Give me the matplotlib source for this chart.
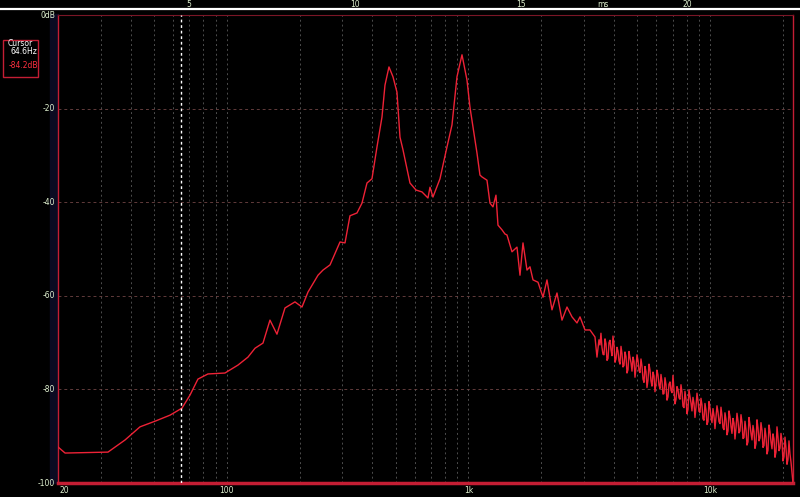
import matplotlib.pyplot as plt
from matplotlib.lines import Line2D
from matplotlib.patches import Rectangle
from matplotlib.ticker import LogLocator, NullFormatter

# spectrum: frequency (Hz) / level (dB)
freq = [20.0, 21.4, 32.2, 37.9, 43.7, 50.4, 58.2, 65.2, 70.4, 75.9, 83.5, 98.2,
        111.2, 122.3, 130.8, 141.1, 150.8, 161.2, 174.0, 191.4, 204.6, 216.7,
        238.4, 250.0, 267.3, 294.0, 308.3, 323.3, 345.6, 362.5, 380.2, 398.7,
        418.2, 438.6, 451.3, 468.8, 487.1, 506.0, 520.7, 535.8, 572.8, 606.5,
        642.1, 679.9, 693.0, 713.0, 762.3, 814.9, 854.7, 896.5, 940.3, 986.1,
        1014.6, 1044.2, 1084.7, 1116.0, 1137.6, 1193.1, 1227.8, 1263.4, 1300.0,
        1325.1, 1376.6, 1416.6, 1443.6, 1514.1, 1588.0, 1634.3, 1681.8, 1747.2,
        1797.8, 1850.1, 1940.4, 2035.0, 2113.9, 2217.2, 2325.4, 2438.9, 2558.0,
        2682.8, 2813.7, 2895.3, 3036.7, 3184.9, 3340.2, 3404.3, 3469.4]
level = [-92.3, -93.6, -93.4, -90.8, -88.0, -86.8, -85.5, -84.0, -81.2, -77.8,
         -76.7, -76.5, -74.8, -73.1, -71.2, -70.1, -65.2, -68.2, -62.6, -61.3,
         -62.4, -59.2, -55.6, -54.5, -53.4, -48.5, -48.7, -42.9, -42.3, -40.2,
         -35.9, -35.0, -28.2, -21.8, -15.0, -11.1, -13.2, -16.5, -26.1, -28.8,
         -35.9, -37.4, -37.8, -39.1, -36.8, -38.9, -35.0, -28.2, -23.5, -13.2,
         -8.5, -13.9, -19.7, -23.9, -29.5, -34.2, -34.6, -35.3, -40.2, -41.0,
         -38.5, -44.9, -45.9, -46.8, -47.0, -50.6, -49.6, -55.6, -48.7, -54.5,
         -53.8, -56.6, -57.1, -60.3, -56.6, -63.0, -59.4, -65.2, -62.4, -64.5,
         -65.8, -64.5, -67.3, -67.3, -68.8, -73.1, -69.4]

# noisy high-frequency tail
tail_freq = [3536, 3605, 3674, 3745, 3817, 3890, 3965, 4042, 4119, 4199,
             4280, 4362, 4446, 4532, 4619, 4708, 4799, 4891, 4985, 5081,
             5178, 5278, 5379, 5483, 5588, 5696, 5805, 5917, 6031, 6147,
             6265, 6386, 6509, 6634, 6762, 6892, 7024, 7160, 7297, 7438,
             7581, 7727, 7875, 8027, 8181, 8339, 8499, 8663, 8830, 9000,
             9173, 9349, 9529, 9713, 9900, 10090, 10284, 10482, 10684, 10890,
             11099, 11313, 11531, 11753, 11979, 12209, 12444, 12684, 12928, 13177,
             13431, 13689, 13953, 14221, 14495, 14774, 15058, 15348, 15643, 15944,
             16251, 16564, 16883, 17208, 17539, 17876, 18220, 18571, 18928, 19292,
             19663, 20041, 20427, 20820, 21221, 21629, 22050]
tail_level = [-68.0, -72.5, -69.2, -73.8, -70.0, -71.5, -68.6, -74.2, -71.0, -73.9,
              -70.8, -75.2, -72.0, -76.5, -71.9, -74.3, -73.1, -77.4, -72.6, -76.0,
              -73.5, -77.8, -75.1, -79.6, -74.6, -78.2, -76.3, -80.5, -75.9, -79.1,
              -76.8, -81.0, -77.5, -82.3, -78.9, -80.2, -77.0, -83.1, -79.4, -81.8,
              -79.0, -83.6, -80.4, -85.2, -80.1, -82.9, -81.7, -86.0, -80.8, -84.7,
              -81.9, -86.3, -83.0, -87.5, -82.6, -85.8, -84.1, -88.4, -83.5, -86.9,
              -83.8, -88.2, -85.0, -89.7, -84.6, -87.9, -86.2, -90.6, -85.1, -89.3,
              -85.4, -90.5, -86.8, -91.9, -86.0, -89.4, -87.7, -92.6, -86.5, -91.0,
              -87.1, -92.4, -88.3, -93.8, -87.6, -91.2, -89.5, -94.5, -88.0, -93.1,
              -89.4, -95.3, -90.2, -96.0, -91.0, -95.5, -100.0]

# in-between bins of the tail
mid_freq = [3502.6, 3569.9, 3639.5, 3709.2, 3780.9, 3853.6, 3927.3, 4003.0, 4080.7, 4158.5,
            4239.2, 4321.0, 4403.8, 4488.6, 4575.4, 4663.2, 4753.1, 4845.0, 4937.9, 5032.8,
            5129.7, 5227.6, 5328.6, 5430.5, 5535.5, 5641.5, 5750.6, 5860.6, 5973.7, 6088.8,
            6205.9, 6325.0, 6447.2, 6571.4, 6697.6, 6826.8, 6958.0, 7091.3, 7228.6, 7366.9,
            7509.3, 7653.6, 7801.0, 7950.4, 8103.9, 8259.4, 8418.9, 8580.4, 8746.0, 8914.6,
            9086.2, 9260.9, 9438.6, 9620.3, 9806.1, 9994.8, 10186.7, 10382.5, 10582.4, 10786.4,
            10994.3, 11205.3, 11421.4, 11641.5, 11865.6, 12093.8, 12326.0, 12563.2, 12805.5, 13051.9,
            13303.2, 13559.7, 13820.1, 14086.7, 14357.2, 14633.9, 14915.5, 15202.3, 15495.0, 15792.9,
            16096.7, 16406.7, 16722.7, 17044.7, 17372.9, 17707.0, 18047.2, 18394.5, 18748.9, 19109.3,
            19476.8, 19851.4, 20233.0, 20622.7, 21019.5, 21424.3]
mid_level = [-70.5, -71.0, -72.6, -70.2, -73.4, -69.5, -72.8, -70.4, -73.5, -71.8,
             -74.6, -72.4, -74.9, -73.0, -75.8, -73.2, -76.1, -74.0, -75.3, -73.8,
             -76.4, -75.0, -78.5, -76.2, -78.0, -75.8, -79.3, -77.1, -78.7, -76.9,
             -79.8, -78.3, -80.9, -79.0, -81.6, -78.4, -80.7, -79.9, -82.2, -80.0,
             -82.1, -80.6, -83.9, -82.0, -84.3, -81.5, -84.6, -83.0, -83.8, -82.4,
             -84.9, -83.3, -86.6, -84.4, -86.9, -83.9, -87.1, -85.6, -86.0, -84.8,
             -87.3, -85.6, -88.6, -86.4, -88.9, -85.8, -89.4, -87.2, -88.3, -86.7,
             -88.9, -87.0, -90.3, -88.6, -91.2, -87.5, -90.8, -89.0, -91.6, -88.2,
             -90.4, -88.7, -92.0, -90.1, -93.0, -89.0, -92.7, -90.6, -93.4, -90.2,
             -92.6, -91.0, -94.4, -92.5, -95.0, -93.8]

x_ticks = [20, 100, 1000, 10000]
x_labels = ['20', '100', '1k', '10k']
y_ticks = [0, -20, -40, -60, -80, -100]
y_labels = ['0dB', '-20', '-40', '-60', '-80', '-100']
ms_ticks = [5, 10, 15, 17.47, 20]
ms_labels = ['5', '10', '15', 'ms', '20']
ms_range = (1.054, 23.19)

cursor_f = 64.6
cursor_db = -84.2

W, H = 800, 497
txt = '#dff0cf'
red = '#c41e34'
fs = 5.5

tail = sorted(zip(tail_freq + mid_freq, tail_level + mid_level))
all_f = freq + [p[0] for p in tail]
all_db = level + [p[1] for p in tail]

fig = plt.figure(figsize=(W / 100, H / 100), dpi=100, facecolor='black')
fig.add_artist(Rectangle((50 / W, 1 - 483 / H), 8 / W, 469 / H,
                         transform=fig.transFigure, color='#0b0b22', zorder=0))
ax = fig.add_axes([58 / W, 1 - 483 / H, 735 / W, 468 / H])
ax.set_facecolor('black')
ax.set_xscale('log')
ax.set_xlim(20, 22050)
ax.set_ylim(-100, 0)

ax.xaxis.set_major_locator(LogLocator(base=10))
ax.xaxis.set_minor_locator(LogLocator(base=10, subs=range(2, 10)))
ax.xaxis.set_minor_formatter(NullFormatter())
ax.set_yticks(y_ticks)
ax.tick_params(which='both', length=0, labelbottom=False, labelleft=False)
ax.grid(True, which='both', axis='x', color='#8c8c8c', ls=(0, (2, 3)), lw=0.7, alpha=0.55)
ax.grid(True, which='major', axis='y', color='#7a4a4a', ls=(0, (3, 3)), lw=0.7, alpha=0.8)

ax.plot(all_f, all_db, color='#ee2236', lw=1.0, zorder=3)
ax.axvline(cursor_f, color='white', ls=(0, (2, 2)), lw=1.0, zorder=4)

for s in ax.spines.values():
    s.set_color(red)
ax.spines['left'].set_linewidth(1.0)
ax.spines['bottom'].set_linewidth(2.5)
ax.spines['top'].set_linewidth(0.8)
ax.spines['top'].set_color('#7a1626')
ax.spines['right'].set_linewidth(1.0)

# axis labels drawn as text to mimic the analyser screen
for f, lab in zip(x_ticks, x_labels):
    ha = 'left' if f == x_ticks[0] else 'center'
    ax.annotate(lab, xy=(f, 0), xycoords=('data', 'axes fraction'),
                xytext=(1 if ha == 'left' else 0, -2.5), textcoords='offset points',
                ha=ha, va='top', color=txt, fontsize=fs)
for v, lab in zip(y_ticks, y_labels):
    ax.annotate(lab, xy=(0, v), xycoords=('axes fraction', 'data'),
                xytext=(-2, 0), textcoords='offset points',
                ha='right', va='center', color=txt, fontsize=fs)

ax_ms = ax.twiny()
ax_ms.set_xlim(*ms_range)
ax_ms.set_xticks(ms_ticks, ms_labels)
ax_ms.tick_params(axis='x', length=0, pad=4.6, colors=txt, labelsize=fs)
for s in ax_ms.spines.values():
    s.set_visible(False)

fig.add_artist(Line2D([0, 1], [1 - 9 / H, 1 - 9 / H], transform=fig.transFigure,
                      color='white', lw=1.6))

# cursor readout box
fig.add_artist(Rectangle((3 / W, 1 - 77 / H), 35 / W, 37 / H, transform=fig.transFigure,
                         fill=False, edgecolor=red, lw=1.0))
fig.text(8 / W, 1 - 43 / H, 'Cursor', color='white', fontsize=fs, va='center')
fig.text(37 / W, 1 - 52 / H, f'{cursor_f}Hz', color='white', fontsize=fs, va='center', ha='right')
fig.text(38 / W, 1 - 66 / H, f'{cursor_db}dB', color='#ff3040', fontsize=fs, va='center', ha='right')

fig.savefig('out.png', dpi=100, facecolor='black')
